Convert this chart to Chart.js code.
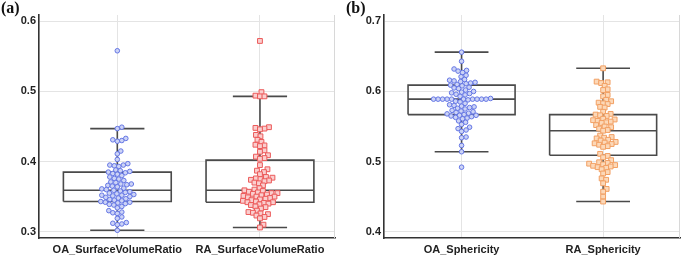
<!DOCTYPE html>
<html>
<head>
<meta charset="utf-8">
<script src="https://cdn.jsdelivr.net/npm/chart.js@4/dist/chart.umd.min.js"></script>
<style>
  html, body { margin:0; padding:0; background:#fff; }
  #wrap { position:relative; width:685px; height:256px; overflow:hidden; background:#fff; }
  canvas { position:absolute; top:0; }
  .plabel { position:absolute; top:-1px; font-family:"Liberation Serif","DejaVu Serif",serif; font-weight:bold; font-size:16px; color:#111; }
</style>
</head>
<body>
<div id="wrap">
  <canvas id="ca" width="340" height="256" style="left:0"></canvas>
  <canvas id="cb" width="345" height="256" style="left:340px"></canvas>
  <div class="plabel" style="left:1px">(a)</div>
  <div class="plabel" style="left:346px">(b)</div>
</div>
<script>
// ---------- data ----------
const categoriesA = ['OA_SurfaceVolumeRatio', 'RA_SurfaceVolumeRatio'];
const categoriesB = ['OA_Sphericity', 'RA_Sphericity'];

const yTicksA = [0.3, 0.4, 0.5, 0.6];
const yTicksB = [0.4, 0.5, 0.6, 0.7];
const yRangeA = [0.291, 0.609];
const yRangeB = [0.391, 0.709];

// box stats: [lower whisker, Q1, median, Q3, upper whisker]
const statsOA_SVR = [0.302, 0.343, 0.359, 0.385, 0.447];
const statsRA_SVR = [0.306, 0.342, 0.359, 0.402, 0.493];
const statsOA_Sph = [0.514, 0.567, 0.589, 0.609, 0.656];
const statsRA_Sph = [0.443, 0.509, 0.544, 0.567, 0.633];

const valuesOA_SVR = [0.558, 0.449, 0.447, 0.433, 0.431, 0.430, 0.429, 0.415, 0.411, 0.403,
  0.397, 0.395, 0.395, 0.394, 0.393, 0.388, 0.387, 0.386, 0.385, 0.384, 0.383, 0.382, 0.380,
  0.378, 0.376, 0.375, 0.373, 0.371, 0.370, 0.368, 0.368, 0.367, 0.366, 0.365, 0.364, 0.362,
  0.361, 0.360, 0.359, 0.358, 0.357, 0.356, 0.355, 0.354, 0.353, 0.352, 0.352, 0.351, 0.350,
  0.349, 0.348, 0.347, 0.346, 0.345, 0.344, 0.343, 0.342, 0.342, 0.341, 0.340, 0.339, 0.338,
  0.336, 0.334, 0.330, 0.328, 0.327, 0.326, 0.321, 0.319, 0.313, 0.312, 0.311, 0.310, 0.302];

const valuesRA_SVR = [0.572, 0.499, 0.494, 0.493, 0.493, 0.449, 0.448, 0.447, 0.446, 0.438,
  0.436, 0.431, 0.428, 0.424, 0.423, 0.422, 0.416, 0.414, 0.409, 0.407, 0.405, 0.404, 0.395,
  0.389, 0.387, 0.385, 0.382, 0.378, 0.377, 0.376, 0.375, 0.374, 0.373, 0.372, 0.370, 0.369,
  0.366, 0.362, 0.360, 0.359, 0.358, 0.357, 0.356, 0.355, 0.355, 0.354, 0.353, 0.352, 0.351,
  0.350, 0.350, 0.349, 0.348, 0.347, 0.346, 0.345, 0.344, 0.343, 0.342, 0.342, 0.341, 0.340,
  0.339, 0.338, 0.336, 0.335, 0.333, 0.330, 0.328, 0.327, 0.326, 0.325, 0.323, 0.321, 0.319,
  0.310, 0.306];

const valuesOA_Sph = [0.656, 0.643, 0.632, 0.630, 0.629, 0.627, 0.623, 0.621, 0.617, 0.616,
  0.615, 0.614, 0.613, 0.612, 0.611, 0.610, 0.609, 0.608, 0.606, 0.605, 0.604, 0.602, 0.600,
  0.599, 0.598, 0.597, 0.596, 0.595, 0.593, 0.590, 0.589, 0.589, 0.589, 0.589, 0.589, 0.589,
  0.589, 0.589, 0.589, 0.589, 0.588, 0.586, 0.585, 0.583, 0.581, 0.580, 0.579, 0.578, 0.577,
  0.576, 0.575, 0.573, 0.572, 0.571, 0.570, 0.569, 0.568, 0.567, 0.566, 0.566, 0.565, 0.564,
  0.563, 0.562, 0.561, 0.558, 0.556, 0.553, 0.549, 0.547, 0.545, 0.543, 0.535, 0.534, 0.523,
  0.514, 0.492];

const valuesRA_Sph = [0.633, 0.614, 0.613, 0.612, 0.608, 0.603, 0.602, 0.595, 0.593, 0.588,
  0.586, 0.584, 0.583, 0.582, 0.578, 0.577, 0.571, 0.568, 0.567, 0.566, 0.565, 0.561, 0.560,
  0.559, 0.558, 0.557, 0.556, 0.555, 0.552, 0.550, 0.549, 0.547, 0.545, 0.544, 0.537, 0.535,
  0.534, 0.533, 0.531, 0.530, 0.528, 0.527, 0.526, 0.525, 0.524, 0.522, 0.521, 0.511, 0.508,
  0.506, 0.502, 0.499, 0.498, 0.497, 0.496, 0.495, 0.494, 0.493, 0.492, 0.491, 0.489, 0.485,
  0.483, 0.476, 0.474, 0.469, 0.461, 0.457, 0.450, 0.443];

// ---------- styles ----------
const BOX_HALF = 0.378;   // box half width in category units
const CAP_HALF = 0.19;    // whisker cap half width
const BOX_COLOR = '#4a4a4a';
const GRID = '#e4e4e4';
const FONT = { family: '"Liberation Sans", Arial, sans-serif', size: 11, weight: 'bold' };

function boxLines(c, s) {
  const [lo, q1, med, q3, hi] = s;
  const gap = { x: c, y: null };
  return [
    { x: c - BOX_HALF, y: q1 }, { x: c + BOX_HALF, y: q1 }, { x: c + BOX_HALF, y: q3 },
    { x: c - BOX_HALF, y: q3 }, { x: c - BOX_HALF, y: q1 }, gap,
    { x: c - BOX_HALF, y: med }, { x: c + BOX_HALF, y: med }, gap,
    { x: c, y: q3 }, { x: c, y: hi }, gap,
    { x: c - CAP_HALF, y: hi }, { x: c + CAP_HALF, y: hi }, gap,
    { x: c, y: q1 }, { x: c, y: lo }, gap,
    { x: c - CAP_HALF, y: lo }, { x: c + CAP_HALF, y: lo }
  ];
}

function boxDataset(c, s) {
  return { type: 'line', data: boxLines(c, s), showLine: true, spanGaps: false, fill: false,
    borderColor: BOX_COLOR, borderWidth: 1.6, pointRadius: 0, order: 2 };
}

function pointDataset(c, vals, style, border, bg, radius) {
  return { type: 'scatter', data: vals.map(v => ({ x: c, y: v })), pointStyle: style,
    borderColor: border, backgroundColor: bg, pointBorderWidth: 1, pointRadius: radius, order: 0,
    _vals: vals, _center: c };
}

const rightEdge = {
  id: 'rightEdge',
  beforeDatasetsDraw(chart) {
    const { ctx, chartArea } = chart;
    ctx.save();
    ctx.strokeStyle = '#d8d8d8';
    ctx.lineWidth = 1;
    ctx.beginPath();
    ctx.moveTo(chartArea.right - 0.5, chartArea.top);
    ctx.lineTo(chartArea.right - 0.5, chartArea.bottom);
    ctx.stroke();
    ctx.restore();
  }
};

function makeChart(id, cats, yTicks, yRange, xRange, yWidth, padRight, datasets) {
  return new Chart(document.getElementById(id), {
    data: { datasets },
    plugins: [rightEdge],
    options: {
      responsive: false, animation: false, devicePixelRatio: 1,
      layout: { padding: { top: 15, right: padRight, left: 0, bottom: 0 } },
      plugins: { legend: { display: false }, tooltip: { enabled: false } },
      scales: {
        x: {
          type: 'linear', min: xRange[0], max: xRange[1],
          afterBuildTicks: sc => { sc.ticks = cats.map((_, i) => ({ value: i + 1 })); },
          afterFit: sc => { sc.height = 18; },
          grid: { color: GRID, drawTicks: false },
          border: { color: '#333', width: 1.6 },
          ticks: { font: FONT, color: '#222', padding: 5, maxRotation: 0, autoSkip: false,
            callback: v => cats[Math.round(v) - 1] }
        },
        y: {
          type: 'linear', min: yRange[0], max: yRange[1],
          afterBuildTicks: sc => { sc.ticks = yTicks.map(v => ({ value: v })); },
          afterFit: sc => { sc.width = yWidth; },
          grid: { color: GRID, drawTicks: false },
          border: { color: '#333', width: 1.6 },
          ticks: { font: FONT, color: '#222', padding: 3, callback: v => v.toFixed(1) }
        }
      }
    }
  });
}

function swarm(chart) {
  const xs = chart.scales.x, ys = chart.scales.y;
  const D = 4.4;
  chart.data.datasets.forEach(ds => {
    if (!ds._vals) return;
    const vals = ds._vals;
    const cx = xs.getPixelForValue(ds._center);
    const order = vals.map((v, i) => i).sort((a, b) => vals[a] - vals[b]);
    const placed = [];
    const out = new Array(vals.length);
    for (const i of order) {
      const py = ys.getPixelForValue(vals[i]);
      let off = 0;
      for (let k = 0; k < 400; k++) {
        const cand = k === 0 ? 0 : (k % 2 ? 1 : -1) * Math.ceil(k / 2) * 0.5;
        const px = cx + cand;
        let ok = true;
        for (const p of placed) {
          const dx = p[0] - px, dy = p[1] - py;
          if (dx * dx + dy * dy < D * D) { ok = false; break; }
        }
        if (ok) { off = cand; break; }
      }
      placed.push([cx + off, py]);
      out[i] = { x: xs.getValueForPixel(cx + off), y: vals[i] };
    }
    ds.data = out;
  });
  chart.update('none');
}

const chartA = makeChart('ca', categoriesA, yTicksA, yRangeA, [0.451, 2.526], 39, 5, [
  pointDataset(1, valuesOA_SVR, 'circle', 'rgb(100,118,228)', 'rgb(204,211,246)', 2.3),
  pointDataset(2, valuesRA_SVR, 'rect', 'rgb(236,90,90)', 'rgb(250,206,206)', 3.4),
  boxDataset(1, statsOA_SVR),
  boxDataset(2, statsRA_SVR)
]);
const chartB = makeChart('cb', categoriesB, yTicksB, yRangeB, [0.452, 2.543], 44, 2, [
  pointDataset(1, valuesOA_Sph, 'circle', 'rgb(100,118,228)', 'rgb(204,211,246)', 2.3),
  pointDataset(2, valuesRA_Sph, 'rect', 'rgb(242,160,100)', 'rgb(252,216,184)', 3.4),
  boxDataset(1, statsOA_Sph),
  boxDataset(2, statsRA_Sph)
]);
swarm(chartA);
swarm(chartB);
</script>
</body>
</html>
